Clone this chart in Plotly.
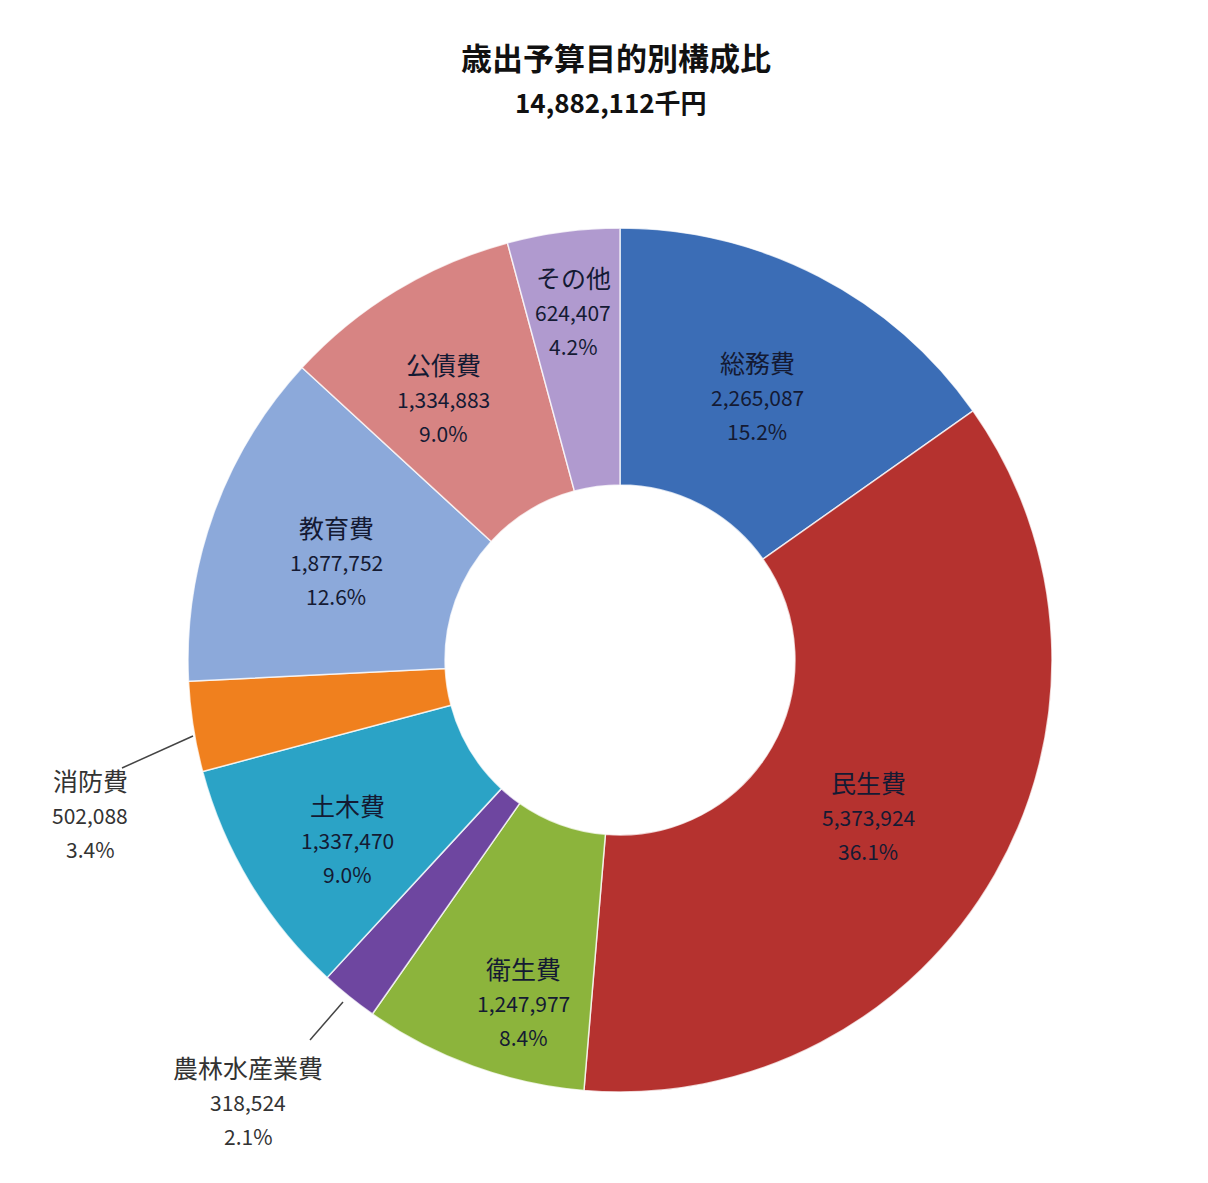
import plotly.graph_objects as go

# ---- data ----
categories = ["総務費", "民生費", "衛生費", "農林水産業費", "土木費", "消防費", "教育費", "公債費", "その他"]
values = [2265087, 5373924, 1247977, 318524, 1337470, 502088, 1877752, 1334883, 624407]
percent_labels = ["15.2%", "36.1%", "8.4%", "2.1%", "9.0%", "3.4%", "12.6%", "9.0%", "4.2%"]
total_label = "14,882,112千円"
title_text = "歳出予算目的別構成比"

# ---- styles ----
colors = ["#3B6DB6", "#B5322F", "#8CB43C", "#6E46A0", "#2BA3C6", "#F0801E", "#8CA9DA", "#D78483", "#B09ACF"]
# label block centres in pixels (x, y)
label_pos = [(757, 397), (868, 817), (523, 1003), (248, 1102), (347, 840), (90, 815), (336, 562), (443, 399), (573, 312)]
outside = [False, False, False, True, False, True, False, False, False]

W, H = 1208, 1183
FONT = "Noto Sans CJK JP"

def px(x):
    return x / W

def py(y):
    return 1 - y / H

fig = go.Figure(go.Pie(
    labels=categories,
    values=values,
    sort=False,
    direction="clockwise",
    rotation=0,
    hole=0.405,
    textinfo="none",
    hoverinfo="label+value+percent",
    marker=dict(colors=colors, line=dict(color="rgba(255,255,255,0.75)", width=1.5)),
    domain=dict(x=[px(188), px(1052)], y=[py(1092), py(228)]),
    showlegend=False,
))

def A(text, x, y, size, color, bold=False):
    return dict(text=f"<b>{text}</b>" if bold else text, x=px(x), y=py(y),
                xref="paper", yref="paper", xanchor="center", yanchor="middle",
                showarrow=False, font=dict(family=FONT, size=size, color=color))

ann = [A(title_text, 616, 56, 31, "#111111", True), A(total_label, 611, 101, 26, "#111111", True)]

for cat, v, pct, (cx, cy), out in zip(categories, values, percent_labels, label_pos, outside):
    col = "#333333" if out else "#141a33"
    for t, s, dy in [(cat, 25, -35), (f"{v:,}", 21, 0), (pct, 21, 34)]:
        ann.append(A(t, cx, cy + dy, s, col))

shapes = [
    dict(type="line", xref="paper", yref="paper", x0=px(122), y0=py(768), x1=px(193), y1=py(736),
         line=dict(color="#444444", width=1.5)),
    dict(type="line", xref="paper", yref="paper", x0=px(310), y0=py(1040), x1=px(343), y1=py(1002),
         line=dict(color="#444444", width=1.5)),
]

fig.update_layout(
    width=W, height=H,
    margin=dict(l=0, r=0, t=0, b=0),
    paper_bgcolor="white",
    plot_bgcolor="white",
    annotations=ann,
    shapes=shapes,
)

fig.write_html("out.html")
